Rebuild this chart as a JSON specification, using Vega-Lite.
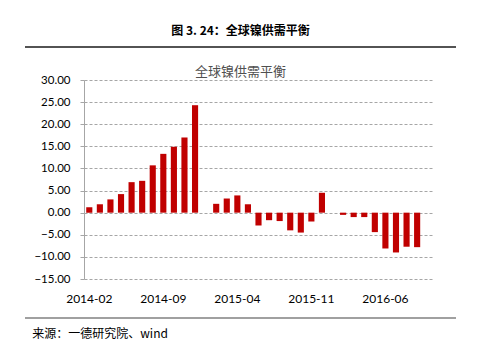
{
  "$schema": "https://vega.github.io/schema/vega-lite/v6.json",
  "background": "white",
  "padding": {"left": 24, "top": 25, "right": 0, "bottom": 0},
  "config": {"view": {"stroke": null}},
  "spacing": 18,
  "vconcat": [
    {
      "width": 431,
      "height": 8,
      "data": {"values": [{}]},
      "title": {"text": "图 3. 24：全球镍供需平衡", "font": "Noto Sans CJK SC", "fontSize": 12, "fontWeight": "bold", "color": "#000000", "anchor": "middle", "offset": 1},
      "mark": {"type": "rule", "color": "#1a1a1a", "strokeWidth": 1.5},
      "encoding": {"y": {"datum": 0, "scale": {"domain": [0, 1]}, "axis": null}}
    },
    {
      "spacing": 13,
      "vconcat": [
        {
          "width": 431,
          "height": 199,
          "title": {"text": "全球镍供需平衡", "font": "Noto Sans CJK SC", "fontSize": 13, "fontWeight": "normal", "color": "#505050", "anchor": "middle", "frame": "group", "offset": -5},
          "data": {"values": [
            {"month": "2014-02", "value": 1.2},
            {"month": "2014-03", "value": 1.9},
            {"month": "2014-04", "value": 3.0},
            {"month": "2014-05", "value": 4.2},
            {"month": "2014-06", "value": 6.9},
            {"month": "2014-07", "value": 7.2},
            {"month": "2014-08", "value": 10.7},
            {"month": "2014-09", "value": 13.3},
            {"month": "2014-10", "value": 14.9},
            {"month": "2014-11", "value": 17.0},
            {"month": "2014-12", "value": 24.3},
            {"month": "2015-01", "value": null},
            {"month": "2015-02", "value": 2.0},
            {"month": "2015-03", "value": 3.2},
            {"month": "2015-04", "value": 3.9},
            {"month": "2015-05", "value": 1.9},
            {"month": "2015-06", "value": -2.9},
            {"month": "2015-07", "value": -1.7},
            {"month": "2015-08", "value": -1.9},
            {"month": "2015-09", "value": -4.0},
            {"month": "2015-10", "value": -4.5},
            {"month": "2015-11", "value": -2.0},
            {"month": "2015-12", "value": 4.5},
            {"month": "2016-01", "value": null},
            {"month": "2016-02", "value": -0.5},
            {"month": "2016-03", "value": -1.0},
            {"month": "2016-04", "value": -1.0},
            {"month": "2016-05", "value": -4.4},
            {"month": "2016-06", "value": -8.1},
            {"month": "2016-07", "value": -9.0},
            {"month": "2016-08", "value": -7.7},
            {"month": "2016-09", "value": -7.8},
            {"month": "2016-10", "value": null}
          ]},
          "encoding": {
            "x": {
              "field": "month", "type": "ordinal", "sort": null,
              "scale": {"domain": ["2014-02","2014-03","2014-04","2014-05","2014-06","2014-07","2014-08","2014-09","2014-10","2014-11","2014-12","2015-01","2015-02","2015-03","2015-04","2015-05","2015-06","2015-07","2015-08","2015-09","2015-10","2015-11","2015-12","2016-01","2016-02","2016-03","2016-04","2016-05","2016-06","2016-07","2016-08","2016-09","2016-10"], "range": [59, 408], "paddingInner": 0.42, "paddingOuter": 0.21},
              "axis": {"values": ["2014-02", "2014-09", "2015-04", "2015-11", "2016-06"], "labelAngle": 0, "domain": false, "ticks": false, "grid": false, "title": null, "labelFont": "Lato", "labelFontSize": 12, "labelColor": "#000000", "labelPadding": 14}
            }
          },
          "layer": [
            {
              "mark": {"type": "bar", "color": "#C00000"},
              "encoding": {
                "y": {
                  "field": "value", "type": "quantitative",
                  "scale": {"domain": [-15, 30], "nice": false, "zero": false},
                  "axis": {"tickCount": 10, "format": ".2f", "title": null, "offset": -59, "grid": true, "gridDash": [3, 2], "gridColor": "#a6a6a6", "gridWidth": 1, "domain": true, "domainColor": "#a6a6a6", "tickColor": "#a6a6a6", "tickSize": 4, "labelFont": "Lato", "labelFontSize": 11.5, "labelColor": "#000000", "labelPadding": 10, "labelOverlap": false, "labelBound": false}
                }
              }
            },
            {
              "mark": {"type": "rule", "color": "#a0a0a0", "strokeWidth": 1},
              "encoding": {"y": {"datum": 0}}
            }
          ]
        },
        {
          "width": 431,
          "height": 1,
          "data": {"values": [{}]},
          "title": {"text": "来源：一德研究院、wind", "orient": "bottom", "anchor": "start", "font": "Noto Sans CJK SC", "fontSize": 12, "fontWeight": "normal", "color": "#000000", "offset": 10, "dx": 8},
          "mark": {"type": "rule", "color": "#808080", "strokeWidth": 1.5},
          "encoding": {"y": {"datum": 1, "scale": {"domain": [0, 1]}, "axis": null}}
        }
      ]
    }
  ]
}
